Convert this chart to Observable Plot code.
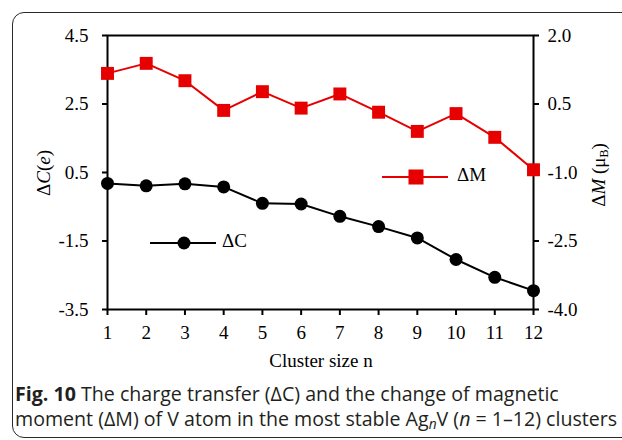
<!DOCTYPE html>
<html>
<head>
<meta charset="utf-8">
<script src="https://cdn.jsdelivr.net/npm/d3@7"></script>
<script src="https://cdn.jsdelivr.net/npm/@observablehq/plot@0.6"></script>
<style>
  body { margin: 0; background: #fff; }
  #wrap { position: relative; width: 622px; height: 440px; overflow: hidden; background: #fff; }
  #box { position: absolute; left: 12px; top: 12px; width: 640px; height: 426px; border: 1.6px solid #2a2a2a; border-radius: 12px; box-sizing: border-box; }
  #chart { position: absolute; left: 0; top: 0; }
  #caption { position: absolute; left: 15px; top: 381px; font-family: "Open Sans", sans-serif; font-size: 19.6px; color: #231f20; white-space: nowrap; }
  #caption div { height: 25px; line-height: 25px; }
  #caption sub { font-size: 0.7em; vertical-align: -0.25em; line-height: 0; }
</style>
</head>
<body>
<div id="wrap">
  <div id="box"></div>
  <div id="chart"></div>
  <div id="caption">
    <div><b>Fig. 10</b> The charge transfer (ΔC) and the change of magnetic</div>
    <div>moment (ΔM) of V atom in the most stable Ag<sub><i>n</i></sub>V (<i>n</i> = 1–12) clusters</div>
  </div>
</div>
<script>
// Cluster size n of Ag_nV
const clusterSize = [1, 2, 3, 4, 5, 6, 7, 8, 9, 10, 11, 12];
// Charge transfer ΔC (e), left axis
const deltaC = [0.18, 0.11, 0.17, 0.08, -0.40, -0.42, -0.78, -1.08, -1.41, -2.04, -2.56, -2.95];
// Change of magnetic moment ΔM (μB), right axis
const deltaM = [1.17, 1.39, 1.01, 0.36, 0.77, 0.41, 0.72, 0.32, -0.10, 0.29, -0.23, -0.94];
// Axis ticks
const leftTicks = [-3.5, -1.5, 0.5, 2.5, 4.5];
const rightTicks = [-4.0, -2.5, -1.0, 0.5, 2.0];
const leftDomain = [-3.5, 4.5];
const rightDomain = [-4.0, 2.0];

const red = "#e60000";
const serif = "'Liberation Serif', 'Times New Roman', serif";
const fs = 19;

// Map the right-axis values onto the left y scale and back
const k = (leftDomain[1] - leftDomain[0]) / (rightDomain[1] - rightDomain[0]);
const toLeft = m => leftDomain[0] + (m - rightDomain[0]) * k;
const fromLeft = c => rightDomain[0] + (c - leftDomain[0]) / k;

const rows = clusterSize.map((n, i) => ({n, c: deltaC[i], m: toLeft(deltaM[i])}));

const chart = Plot.plot({
  width: 622,
  height: 372,
  marginLeft: 107,
  marginRight: 89,
  marginTop: 35,
  marginBottom: 63,
  style: {fontFamily: serif, fontSize: fs + "px", color: "#000", background: "transparent", overflow: "visible"},
  x: {domain: [1, 12]},
  y: {domain: leftDomain},
  marks: [
    Plot.axisX({ticks: clusterSize, tickSize: 6, tickPadding: 10, strokeWidth: 2, tickFormat: d => String(d), label: null}),
    Plot.axisY({ticks: leftTicks, tickSize: 5, tickPadding: 14, strokeWidth: 2, tickFormat: d => d.toFixed(1), label: null}),
    Plot.axisY(rightTicks.map(toLeft), {anchor: "right", tickSize: 5, tickPadding: 9, strokeWidth: 2, tickFormat: d => fromLeft(d).toFixed(1), label: null}),
    Plot.frame({strokeWidth: 2, stroke: "#000"}),
    Plot.line(rows, {x: "n", y: "c", stroke: "#000", strokeWidth: 2}),
    Plot.dot(rows, {x: "n", y: "c", r: 6.5, fill: "#000"}),
    Plot.line(rows, {x: "n", y: "m", stroke: red, strokeWidth: 2}),
    Plot.dot(rows, {x: "n", y: "m", symbol: "square", r: 7.3, fill: red})
  ]
});
document.getElementById("chart").appendChild(chart);

// Axis titles and in-plot legends
const svg = d3.select(chart);
const g = svg.append("g").attr("font-family", serif).attr("font-size", fs).attr("fill", "#000").attr("text-anchor", "start");

const yl = g.append("text").attr("transform", "translate(46,173) rotate(-90)")
  .attr("text-anchor", "middle").attr("dominant-baseline", "middle");
yl.append("tspan").text("Δ");
yl.append("tspan").attr("font-style", "italic").text("C");
yl.append("tspan").text("(");
yl.append("tspan").attr("font-style", "italic").text("e");
yl.append("tspan").text(")");

const yr = g.append("text").attr("transform", "translate(601,175) rotate(-90)")
  .attr("text-anchor", "middle").attr("dominant-baseline", "middle");
yr.append("tspan").text("Δ");
yr.append("tspan").attr("font-style", "italic").text("M");
yr.append("tspan").text(" (μ");
yr.append("tspan").attr("font-size", 12).attr("dy", 4).text("B");
yr.append("tspan").attr("dy", -4).text(")");

g.append("text").attr("x", 321).attr("y", 367).attr("text-anchor", "middle").text("Cluster size n");

// Legend: ΔM
const lm = g.append("g");
lm.append("line").attr("x1", 382).attr("x2", 448).attr("y1", 177).attr("y2", 177).attr("stroke", red).attr("stroke-width", 2);
lm.append("rect").attr("x", 416 - 7.5).attr("y", 177 - 7.5).attr("width", 15).attr("height", 15).attr("fill", red);
lm.append("text").attr("x", 457).attr("y", 177).attr("dominant-baseline", "middle").text("ΔM");

// Legend: ΔC
const lc = g.append("g");
lc.append("line").attr("x1", 150).attr("x2", 216).attr("y1", 243).attr("y2", 243).attr("stroke", "#000").attr("stroke-width", 2);
lc.append("circle").attr("cx", 184).attr("cy", 243).attr("r", 6.5).attr("fill", "#000");
lc.append("text").attr("x", 222).attr("y", 243).attr("dominant-baseline", "middle").text("ΔC");
</script>
</body>
</html>
